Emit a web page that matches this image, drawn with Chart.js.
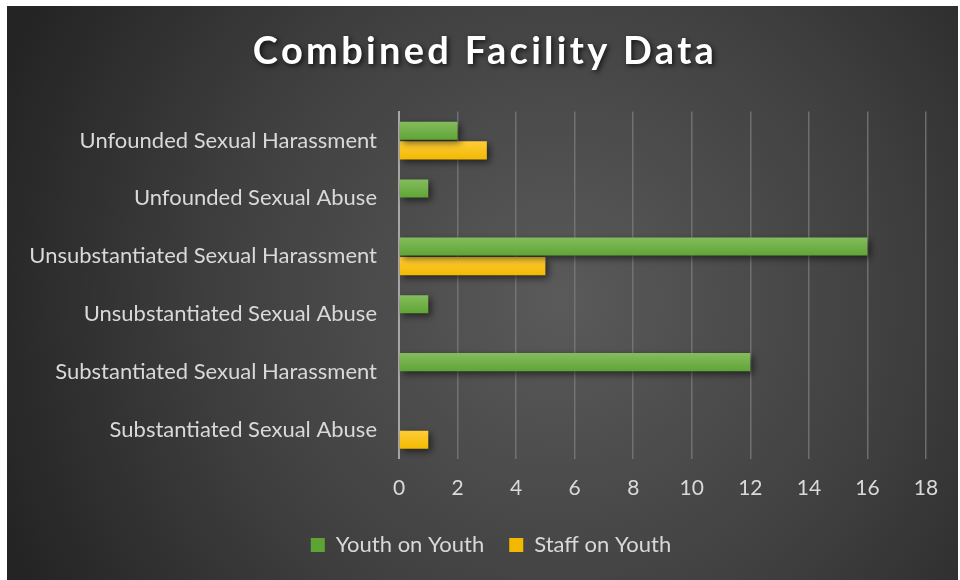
<!DOCTYPE html>
<html>
<head>
<meta charset="utf-8">
<script src="https://cdn.jsdelivr.net/npm/chart.js@4"></script>
<style>
  html, body { margin: 0; padding: 0; background: #fff; }
  #wrap { width: 960px; height: 580px; position: relative; }
</style>
</head>
<body>
<div id="wrap"><canvas id="chart" width="960" height="580"></canvas></div>
<script>
const categories = [
  "Unfounded Sexual Harassment",
  "Unfounded Sexual Abuse",
  "Unsubstantiated Sexual Harassment",
  "Unsubstantiated Sexual Abuse",
  "Substantiated Sexual Harassment",
  "Substantiated Sexual Abuse",
];
const youthOnYouth = [2, 1, 16, 1, 12, 0];
const staffOnYouth = [3, 0, 5, 0, 0, 1];
const xTicks = [0, 2, 4, 6, 8, 10, 12, 14, 16, 18];

const CAT_PCT = 0.68;
const BAR_PCT = 0.92;
const FONT = "Lato, 'Open Sans', sans-serif";
const SHIFT = 22; // title and legend sit centred on the whole frame, not the plot

function barFill(top, bottom, fallback) {
  return (c) => {
    const ch = c.chart;
    const y = ch.scales && ch.scales.y;
    if (!y || c.dataIndex === undefined || !isFinite(y.height)) return fallback;
    const band = y.height / categories.length;
    const center = y.getPixelForValue(c.dataIndex);
    const half = (band * CAT_PCT) / 2;
    const start = center - half + c.datasetIndex * half;
    const g = ch.ctx.createLinearGradient(0, start, 0, start + half);
    g.addColorStop(0, top);
    g.addColorStop(1, bottom);
    return g;
  };
}

const background = {
  id: "background",
  beforeDraw(chart) {
    const ctx = chart.ctx;
    ctx.save();
    ctx.fillStyle = "#ffffff";
    ctx.fillRect(0, 0, chart.width, chart.height);
    const g = ctx.createRadialGradient(560, 300, 0, 560, 300, 600);
    g.addColorStop(0, "#5a5a5a");
    g.addColorStop(0.55, "#404040");
    g.addColorStop(1, "#242424");
    ctx.fillStyle = g;
    ctx.fillRect(7, 6, 951, 574);
    ctx.restore();
  },
};

const barShadow = {
  id: "barShadow",
  beforeDatasetsDraw(chart) {
    const ctx = chart.ctx;
    ctx.save();
    ctx.shadowColor = "rgba(0,0,0,0.55)";
    ctx.shadowBlur = 7;
    ctx.shadowOffsetX = 3;
    ctx.shadowOffsetY = 3;
  },
  afterDatasetsDraw(chart) {
    chart.ctx.restore();
  },
};

const chart = new Chart(document.getElementById("chart"), {
  type: "bar",
  data: {
    labels: categories,
    datasets: [
      {
        label: "Youth on Youth",
        data: youthOnYouth,
        backgroundColor: barFill("#86bd5f", "#5ea434", "#70ad47"),
        categoryPercentage: CAT_PCT,
        barPercentage: BAR_PCT,
      },
      {
        label: "Staff on Youth",
        data: staffOnYouth,
        backgroundColor: barFill("#ffcd3a", "#f2b900", "#ffc000"),
        categoryPercentage: CAT_PCT,
        barPercentage: BAR_PCT,
      },
    ],
  },
  options: {
    indexAxis: "y",
    responsive: false,
    animation: false,
    layout: { padding: { left: 0, right: 34, top: 29, bottom: 14 } },
    scales: {
      x: {
        min: 0,
        max: 18,
        afterBuildTicks: (s) => { s.ticks = xTicks.map((v) => ({ value: v })); },
        afterFit: (s) => { s.height -= 9; },
        grid: { color: "rgba(125,125,125,0.75)", lineWidth: 1.5, drawTicks: false },
        border: { display: false },
        ticks: { color: "#d9d9d9", font: { family: FONT, size: 21 }, padding: 17 },
      },
      y: {
        afterFit: (s) => { s.width = 399; },
        grid: { display: false, drawTicks: false },
        border: { display: true, color: "#a6a6a6", width: 2 },
        ticks: { color: "#d9d9d9", font: { family: FONT, size: 22 }, padding: 22 },
      },
    },
    plugins: {
      title: {
        display: true,
        text: "Combined Facility Data",
        color: "#ffffff",
        font: { family: FONT, size: 38, weight: "bold" },
        padding: { top: 0, bottom: 37 },
      },
      legend: {
        position: "bottom",
        labels: {
          color: "#d9d9d9",
          font: { family: FONT, size: 22 },
          boxWidth: 14,
          boxHeight: 14,
          padding: 25,
        },
      },
      tooltip: { enabled: false },
    },
  },
  plugins: [background, barShadow],
});

// soft drop shadow and wide spacing on the title like the original
const tb = chart.titleBlock;
if (tb) {
  const drawTitle = tb.draw.bind(tb);
  tb.draw = function () {
    const ctx = chart.ctx;
    ctx.save();
    ctx.translate(SHIFT, 0);
    ctx.shadowColor = "rgba(0,0,0,0.7)";
    ctx.shadowBlur = 5;
    ctx.shadowOffsetX = 2;
    ctx.shadowOffsetY = 2;
    ctx.letterSpacing = "3.3px";
    drawTitle();
    ctx.restore();
  };
}
const lg = chart.legend;
if (lg) {
  const drawLegend = lg.draw.bind(lg);
  lg.draw = function () {
    chart.ctx.save();
    chart.ctx.translate(SHIFT + 6, 0);
    drawLegend();
    chart.ctx.restore();
  };
}
chart.draw();
</script>
</body>
</html>
